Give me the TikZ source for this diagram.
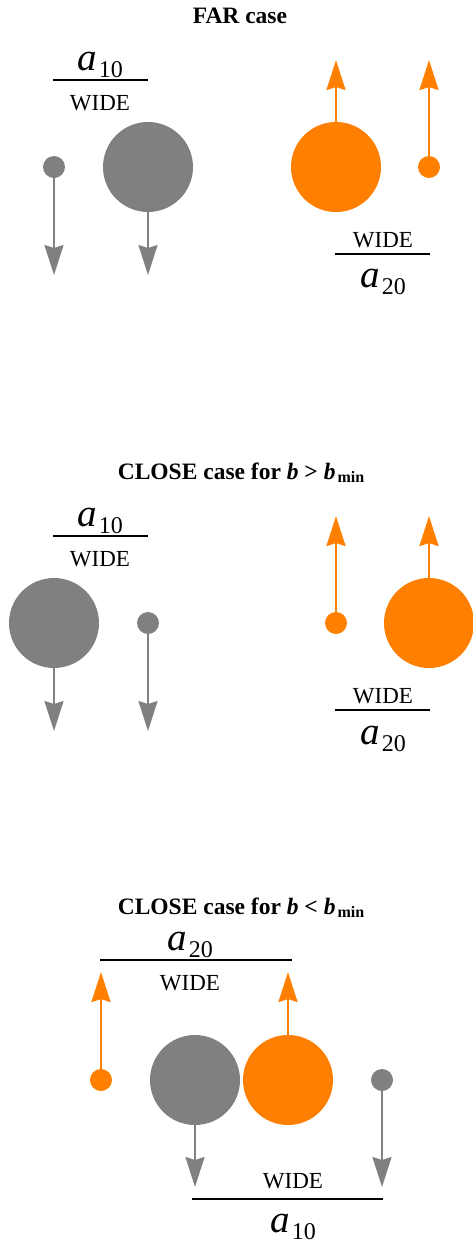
\documentclass[tikz,border=0pt]{standalone}
\usepackage{fontspec}
\setmainfont{Liberation Serif}
\usetikzlibrary{positioning,arrows.meta}
\definecolor{ballgray}{RGB}{128,128,128}
\definecolor{ballorange}{RGB}{255,128,0}
\newcommand\asub[1]{{\fontsize{39}{39}\selectfont\itshape a}\kern2pt\raisebox{-7pt}{\fontsize{24}{24}\selectfont #1}}
\newcommand\bmin{\textit{b}\kern2pt\raisebox{-3pt}{\fontsize{16}{16}\selectfont min}}

\begin{document}
\begin{tikzpicture}[x=1pt, y=-1pt,
  small/.style={circle, inner sep=0pt, minimum size=22pt},
  big/.style={circle, inner sep=0pt, minimum size=90pt},
  arr/.style={-{Stealth[length=30pt, width=19pt, inset=3pt]}, line width=2.2pt},
  title/.style={font=\fontsize{23.5}{23.5}\selectfont\bfseries, anchor=base, inner sep=0pt},
  lbl/.style={font=\fontsize{23}{23}\selectfont, anchor=base, inner sep=0pt},
  bar/.style={line width=2pt}
]
  \useasboundingbox (0,0) rectangle (473,1243);

  % FAR case
  \node[title] (farT) at (240,23) {FAR case};
  \node[small, fill=ballgray] (farGs) at (54,167) {};
  \node[big, fill=ballgray] (farGb) at (148,167) {};
  \node[big, fill=ballorange] (farOb) at (336,167) {};
  \node[small, fill=ballorange] (farOs) at (429,167) {};
  \coordinate (farGsT) at (54,275);
  \coordinate (farGbT) at (148,275);
  \coordinate (farObT) at (336,60);
  \coordinate (farOsT) at (429,60);
  \draw[arr, ballgray] (farGs) -- (farGsT);
  \draw[arr, ballgray] (farGb) -- (farGbT);
  \draw[arr, ballorange] (farOb) -- (farObT);
  \draw[arr, ballorange] (farOs) -- (farOsT);

  \node[lbl] (farA1) at (100,70) {\asub{10}};
  \draw[bar] (53,80) -- (148,80);
  \node[lbl] (farW1) at (100,110) {WIDE};
  \node[lbl] (farW2) at (383,247) {WIDE};
  \draw[bar] (335,254) -- (430,254);
  \node[lbl] (farA2) at (383,287) {\asub{20}};

  % CLOSE case, b > bmin
  \node[title] (clT) at (241,479) {CLOSE case for \textit{b} > \bmin};
  \node[big, fill=ballgray] (clGb) at (54,623) {};
  \node[small, fill=ballgray] (clGs) at (148,623) {};
  \node[small, fill=ballorange] (clOs) at (336,623) {};
  \node[big, fill=ballorange] (clOb) at (429,623) {};
  \coordinate (clGbT) at (54,731);
  \coordinate (clGsT) at (148,731);
  \coordinate (clOsT) at (336,516);
  \coordinate (clObT) at (429,516);
  \draw[arr, ballgray] (clGb) -- (clGbT);
  \draw[arr, ballgray] (clGs) -- (clGsT);
  \draw[arr, ballorange] (clOs) -- (clOsT);
  \draw[arr, ballorange] (clOb) -- (clObT);

  \node[lbl] (clA1) at (100,526) {\asub{10}};
  \draw[bar] (53,536) -- (148,536);
  \node[lbl] (clW1) at (100,566) {WIDE};
  \node[lbl] (clW2) at (383,703) {WIDE};
  \draw[bar] (335,710) -- (430,710);
  \node[lbl] (clA2) at (383,744) {\asub{20}};

  % CLOSE case, b < bmin
  \node[title] (ovT) at (241,914) {CLOSE case for \textit{b} < \bmin};
  \node[small, fill=ballorange] (ovOs) at (101,1080) {};
  \node[big, fill=ballgray] (ovGb) at (195,1080) {};
  \node[big, fill=ballorange] (ovOb) at (288,1080) {};
  \node[small, fill=ballgray] (ovGs) at (382,1080) {};
  \coordinate (ovOsT) at (101,972);
  \coordinate (ovObT) at (288,972);
  \coordinate (ovGbT) at (195,1187);
  \coordinate (ovGsT) at (382,1187);
  \draw[arr, ballorange] (ovOs) -- (ovOsT);
  \draw[arr, ballorange] (ovOb) -- (ovObT);
  \draw[arr, ballgray] (ovGb) -- (ovGbT);
  \draw[arr, ballgray] (ovGs) -- (ovGsT);

  \node[lbl] (ovA2) at (190,950) {\asub{20}};
  \draw[bar] (100,960) -- (292,960);
  \node[lbl] (ovW2) at (190,990) {WIDE};
  \node[lbl] (ovW1) at (293,1188) {WIDE};
  \draw[bar] (192,1199) -- (383,1199);
  \node[lbl] (ovA1) at (293,1232) {\asub{10}};
\end{tikzpicture}
\end{document}
